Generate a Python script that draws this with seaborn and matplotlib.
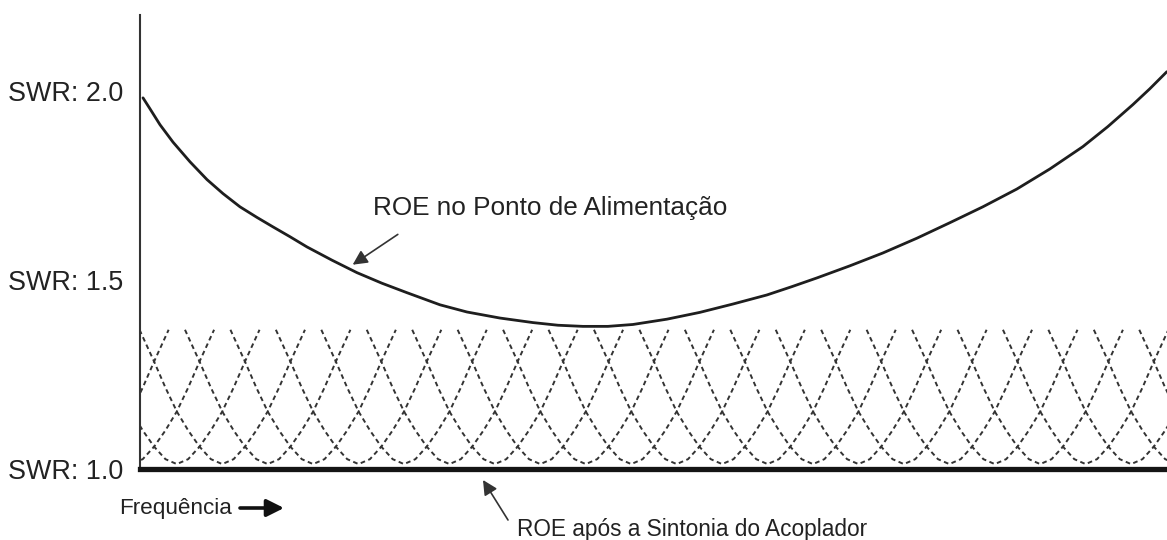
import matplotlib
matplotlib.use("Agg")
import matplotlib.pyplot as plt
import pandas as pd
import seaborn as sns

# SWR at the feed point (frequency in tuner-step units)
feed_freq = [0.066, 0.220, 0.440, 0.726, 1.100, 1.474, 1.826, 2.200, 2.574, 2.926, 3.300,
             3.674, 4.224, 4.774, 5.325, 5.875, 6.601, 7.195, 7.921, 8.647, 9.197, 9.747,
             10.297, 10.847, 11.595, 12.321, 13.047, 13.795, 14.345, 14.895, 15.621,
             16.348, 17.096, 17.822, 18.548, 19.296, 20.022, 20.748, 21.298, 21.848,
             22.222, 22.596]
feed_swr = [1.981, 1.952, 1.910, 1.864, 1.812, 1.765, 1.728, 1.693, 1.665, 1.640, 1.614,
            1.587, 1.552, 1.519, 1.491, 1.466, 1.434, 1.415, 1.399, 1.387, 1.380, 1.377,
            1.377, 1.382, 1.396, 1.414, 1.436, 1.460, 1.482, 1.505, 1.537,
            1.571, 1.610, 1.651, 1.693, 1.740, 1.793, 1.852, 1.905, 1.963,
            2.005, 2.050]

# SWR after tuning: one dip per tuner setting
tune_centers = [-1.19, -0.19, 0.81, 1.81, 2.81, 3.81, 4.81, 5.81, 6.81, 7.81, 8.81, 9.81, 10.81,
                11.81, 12.81, 13.81, 14.81, 15.81, 16.81, 17.81, 18.81, 19.81, 20.81, 21.81,
                22.81, 23.81]
dip_offset = [-1.82, -1.5, -1.25, -1.0, -0.75, -0.5, -0.25, 0.0,
              0.25, 0.5, 0.75, 1.0, 1.25, 1.5, 1.82]
dip_swr = [1.368, 1.284, 1.215, 1.152, 1.102, 1.059, 1.026, 1.013,
           1.026, 1.059, 1.102, 1.152, 1.215, 1.284, 1.368]

swr_ticks = [1.0, 1.5, 2.0]
tick_labels = ["SWR: 1.0", "SWR: 1.5", "SWR: 2.0"]

feed = pd.DataFrame({"freq": feed_freq, "swr": feed_swr})
rows = []
for i, c in enumerate(tune_centers):
    for o, s in zip(dip_offset, dip_swr):
        rows.append({"step": i, "freq": c + o, "swr": s})
dips = pd.DataFrame(rows)

sns.set_style("white")
plt.rcParams["font.family"] = ["Liberation Sans", "DejaVu Sans"]

fig = plt.figure(figsize=(11.67, 5.4), dpi=100)
ax = fig.add_axes([140 / 1167, 71 / 540, 1027 / 1167, 454 / 540])

sns.lineplot(data=dips, x="freq", y="swr", units="step", estimator=None, sort=False,
             color="#333333", lw=1.4, linestyle=(0, (2.4, 1.8)), ax=ax)
sns.lineplot(data=feed, x="freq", y="swr", sort=False, color="#1e1e1e", lw=2.0,
             solid_joinstyle="round", ax=ax)

ax.set_xlim(0, 22.6)
ax.set_ylim(1.0, 2.2)
ax.set_xticks([])
ax.set_yticks(swr_ticks, labels=tick_labels)
ax.tick_params(axis="y", direction="in", length=11.5, width=1.2, color="#333333",
               pad=12, labelsize=19.4, labelcolor="#222222")
ax.set_xlabel("")
ax.set_ylabel("")
sns.despine(ax=ax, top=True, right=True)
ax.spines["left"].set_linewidth(1.5)
ax.spines["left"].set_color("#333333")
ax.spines["bottom"].set_linewidth(3.8)
ax.spines["bottom"].set_color("#151515")

# annotations
ax.annotate("ROE no Ponto de Alimentação", xy=(4.68, 1.54), xycoords="data",
            xytext=(373, 325), textcoords="figure pixels",
            fontsize=18.8, color="#222222", va="baseline", ha="left",
            arrowprops=dict(arrowstyle="-|>", color="#333333", lw=1.2,
                            mutation_scale=22, shrinkA=0, shrinkB=0,
                            relpos=(0.07, -0.6)))
ax.annotate("", xy=(483, 60), xycoords="figure pixels",
            xytext=(508, 20), textcoords="figure pixels",
            arrowprops=dict(arrowstyle="-|>", color="#333333", lw=1.2,
                            mutation_scale=22, shrinkA=0, shrinkB=0),
            annotation_clip=False)
fig.text(517 / 1167, 4 / 540, "ROE após a Sintonia do Acoplador", fontsize=16.3,
         color="#222222", va="baseline", ha="left")
fig.text(119 / 1167, 26 / 540, "Frequência", fontsize=16.2, color="#222222",
         va="baseline", ha="left")
ax.annotate("", xy=(284, 32), xycoords="figure pixels",
            xytext=(240, 32), textcoords="figure pixels",
            arrowprops=dict(arrowstyle="-|>", color="#111111", lw=2.6,
                            mutation_scale=26, shrinkA=0, shrinkB=0),
            annotation_clip=False)

fig.savefig("out.png", dpi=100)
